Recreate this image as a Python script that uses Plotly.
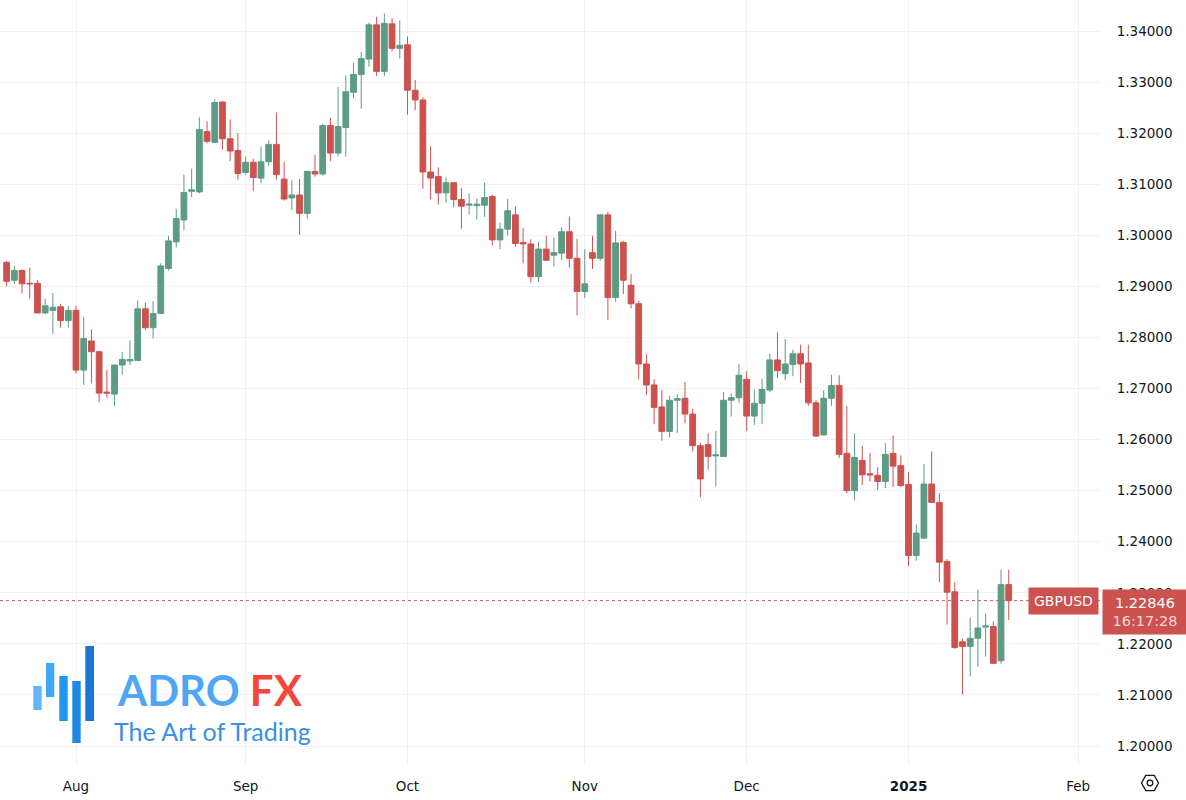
import plotly.graph_objects as go

# ---------------- data ----------------
dates = [
    "2024-07-19", "2024-07-22", "2024-07-23", "2024-07-24", "2024-07-25", "2024-07-26",
    "2024-07-29", "2024-07-30", "2024-07-31",
    "2024-08-01", "2024-08-02", "2024-08-05", "2024-08-06", "2024-08-07", "2024-08-08",
    "2024-08-09", "2024-08-12", "2024-08-13", "2024-08-14", "2024-08-15", "2024-08-16",
    "2024-08-19", "2024-08-20", "2024-08-21", "2024-08-22", "2024-08-23", "2024-08-26",
    "2024-08-27", "2024-08-28", "2024-08-29", "2024-08-30",
    "2024-09-02", "2024-09-03", "2024-09-04", "2024-09-05", "2024-09-06", "2024-09-09",
    "2024-09-10", "2024-09-11", "2024-09-12", "2024-09-13", "2024-09-16", "2024-09-17",
    "2024-09-18", "2024-09-19", "2024-09-20", "2024-09-23", "2024-09-24", "2024-09-25",
    "2024-09-26", "2024-09-27", "2024-09-30",
    "2024-10-01", "2024-10-02", "2024-10-03", "2024-10-04", "2024-10-07", "2024-10-08",
    "2024-10-09", "2024-10-10", "2024-10-11", "2024-10-14", "2024-10-15", "2024-10-16",
    "2024-10-17", "2024-10-18", "2024-10-21", "2024-10-22", "2024-10-23", "2024-10-24",
    "2024-10-25", "2024-10-28", "2024-10-29", "2024-10-30", "2024-10-31",
    "2024-11-01", "2024-11-04", "2024-11-05", "2024-11-06", "2024-11-07", "2024-11-08",
    "2024-11-11", "2024-11-12", "2024-11-13", "2024-11-14", "2024-11-15", "2024-11-18",
    "2024-11-19", "2024-11-20", "2024-11-21", "2024-11-22", "2024-11-25", "2024-11-26",
    "2024-11-27", "2024-11-28", "2024-11-29",
    "2024-12-02", "2024-12-03", "2024-12-04", "2024-12-05", "2024-12-06", "2024-12-09",
    "2024-12-10", "2024-12-11", "2024-12-12", "2024-12-13", "2024-12-16", "2024-12-17",
    "2024-12-18", "2024-12-19", "2024-12-20", "2024-12-23", "2024-12-24", "2024-12-26",
    "2024-12-27", "2024-12-30", "2024-12-31",
    "2025-01-02", "2025-01-03", "2025-01-06", "2025-01-07", "2025-01-08", "2025-01-09",
    "2025-01-10", "2025-01-13", "2025-01-14", "2025-01-15", "2025-01-16", "2025-01-17",
    "2025-01-20", "2025-01-21",
]

opens = [
    1.2947, 1.2912, 1.2931, 1.2906, 1.2906, 1.2848, 1.2853, 1.2860, 1.2833,
    1.2853, 1.2736, 1.2793, 1.2772, 1.2693, 1.2689, 1.2746, 1.2754, 1.2755, 1.2856, 1.2819, 1.2847,
    1.2935, 1.2987, 1.3030, 1.3086, 1.3085, 1.3203, 1.3182, 1.3261, 1.3189, 1.3166,
    1.3123, 1.3143, 1.3112, 1.3144, 1.3178, 1.3110, 1.3073, 1.3079, 1.3043, 1.3125, 1.3120, 1.3215,
    1.3161, 1.3211, 1.3280, 1.3315, 1.3345, 1.3412, 1.3321, 1.3414, 1.3366,
    1.3373, 1.3284, 1.3265, 1.3124, 1.3115, 1.3083, 1.3103, 1.3070, 1.3059, 1.3058, 1.3059, 1.3076,
    1.2991, 1.3012, 1.3040, 1.2986, 1.2983, 1.2919, 1.2973, 1.2961, 1.2965, 1.3007, 1.2955,
    1.2890, 1.2966, 1.2955, 1.3040, 1.2878, 1.2986, 1.2902, 1.2866, 1.2748, 1.2707, 1.2664, 1.2616,
    1.2677, 1.2681, 1.2650, 1.2588, 1.2590, 1.2568, 1.2567, 1.2677, 1.2682,
    1.2718, 1.2646, 1.2671, 1.2697, 1.2756, 1.2729, 1.2747, 1.2768, 1.2750, 1.2672, 1.2609, 1.2681,
    1.2706, 1.2573, 1.2500, 1.2559, 1.2533, 1.2530, 1.2518, 1.2573, 1.2549,
    1.2512, 1.2373, 1.2407, 1.2513, 1.2477, 1.2361, 1.2302, 1.2204, 1.2195, 1.2211, 1.2233, 1.2234,
    1.2167, 1.2316,
]

highs = [
    1.2950, 1.2941, 1.2933, 1.2937, 1.2912, 1.2876, 1.2887, 1.2866, 1.2862,
    1.2862, 1.2840, 1.2816, 1.2774, 1.2736, 1.2747, 1.2772, 1.2794, 1.2872, 1.2868, 1.2871, 1.2945,
    1.2999, 1.3052, 1.3119, 1.3130, 1.3231, 1.3223, 1.3266, 1.3262, 1.3227, 1.3200,
    1.3154, 1.3150, 1.3174, 1.3186, 1.3240, 1.3144, 1.3108, 1.3110, 1.3127, 1.3158, 1.3218, 1.3230,
    1.3290, 1.3313, 1.3338, 1.3359, 1.3416, 1.3428, 1.3434, 1.3425, 1.3421,
    1.3389, 1.3304, 1.3270, 1.3174, 1.3133, 1.3113, 1.3104, 1.3093, 1.3082, 1.3072, 1.3103, 1.3079,
    1.3025, 1.3071, 1.3057, 1.3014, 1.2992, 1.2987, 1.2999, 1.2996, 1.3016, 1.3037, 1.2993,
    1.2973, 1.2999, 1.3041, 1.3046, 1.3009, 1.2989, 1.2924, 1.2872, 1.2767, 1.2718, 1.2697, 1.2686,
    1.2689, 1.2713, 1.2660, 1.2594, 1.2612, 1.2617, 1.2693, 1.2690, 1.2748,
    1.2734, 1.2698, 1.2719, 1.2768, 1.2810, 1.2797, 1.2776, 1.2786, 1.2786, 1.2677, 1.2697, 1.2727,
    1.2726, 1.2666, 1.2612, 1.2588, 1.2574, 1.2546, 1.2593, 1.2608, 1.2569,
    1.2536, 1.2434, 1.2552, 1.2577, 1.2495, 1.2366, 1.2321, 1.2210, 1.2251, 1.2306, 1.2260, 1.2244,
    1.2345, 1.2345,
]

lows = [
    1.2900, 1.2905, 1.2886, 1.2876, 1.2847, 1.2846, 1.2807, 1.2819, 1.2819,
    1.2729, 1.2707, 1.2710, 1.2673, 1.2682, 1.2665, 1.2727, 1.2746, 1.2754, 1.2814, 1.2798, 1.2846,
    1.2931, 1.2976, 1.3010, 1.3075, 1.3082, 1.3180, 1.3180, 1.3168, 1.3145, 1.3109,
    1.3119, 1.3087, 1.3102, 1.3136, 1.3109, 1.3068, 1.3049, 1.3001, 1.3033, 1.3115, 1.3117, 1.3145,
    1.3154, 1.3154, 1.3268, 1.3248, 1.3330, 1.3312, 1.3312, 1.3360, 1.3346,
    1.3236, 1.3245, 1.3091, 1.3070, 1.3060, 1.3064, 1.3055, 1.3013, 1.3041, 1.3031, 1.3036, 1.2980,
    1.2973, 1.3000, 1.2977, 1.2945, 1.2908, 1.2909, 1.2951, 1.2939, 1.2952, 1.2937, 1.2843,
    1.2877, 1.2934, 1.2950, 1.2834, 1.2870, 1.2885, 1.2857, 1.2718, 1.2687, 1.2630, 1.2598, 1.2604,
    1.2613, 1.2632, 1.2577, 1.2487, 1.2541, 1.2508, 1.2566, 1.2645, 1.2672,
    1.2617, 1.2629, 1.2630, 1.2693, 1.2721, 1.2716, 1.2724, 1.2711, 1.2666, 1.2605, 1.2609, 1.2666,
    1.2564, 1.2495, 1.2481, 1.2511, 1.2518, 1.2501, 1.2505, 1.2507, 1.2507,
    1.2352, 1.2363, 1.2407, 1.2477, 1.2321, 1.2238, 1.2190, 1.2101, 1.2136, 1.2155, 1.2175, 1.2161,
    1.2161, 1.2247,
]

closes = [
    1.2910, 1.2931, 1.2905, 1.2905, 1.2848, 1.2862, 1.2859, 1.2833, 1.2853,
    1.2736, 1.2798, 1.2772, 1.2691, 1.2691, 1.2746, 1.2757, 1.2757, 1.2856, 1.2819, 1.2847, 1.2940,
    1.2989, 1.3033, 1.3084, 1.3089, 1.3207, 1.3184, 1.3260, 1.3189, 1.3165, 1.3121,
    1.3143, 1.3113, 1.3144, 1.3178, 1.3119, 1.3071, 1.3079, 1.3043, 1.3125, 1.3120, 1.3215, 1.3161,
    1.3213, 1.3281, 1.3315, 1.3346, 1.3412, 1.3321, 1.3415, 1.3366, 1.3372,
    1.3284, 1.3265, 1.3124, 1.3112, 1.3083, 1.3103, 1.3070, 1.3057, 1.3061, 1.3061, 1.3074, 1.2991,
    1.3012, 1.3048, 1.2984, 1.2983, 1.2919, 1.2973, 1.2951, 1.2966, 1.3007, 1.2955, 1.2890,
    1.2905, 1.2955, 1.3040, 1.2878, 1.2985, 1.2912, 1.2866, 1.2748, 1.2707, 1.2663, 1.2616, 1.2677,
    1.2680, 1.2650, 1.2588, 1.2523, 1.2567, 1.2570, 1.2677, 1.2682, 1.2726,
    1.2646, 1.2671, 1.2698, 1.2756, 1.2735, 1.2748, 1.2768, 1.2748, 1.2672, 1.2607, 1.2681, 1.2706,
    1.2571, 1.2500, 1.2565, 1.2531, 1.2531, 1.2518, 1.2571, 1.2548, 1.2510,
    1.2373, 1.2417, 1.2513, 1.2477, 1.2360, 1.2301, 1.2193, 1.2195, 1.2211, 1.2231, 1.2235, 1.2162,
    1.2316, 1.22846,
]

symbol = "GBPUSD"
countdown = "16:17:28"
price_ticks = [1.20, 1.21, 1.22, 1.23, 1.24, 1.25, 1.26, 1.27, 1.28, 1.29, 1.30, 1.31, 1.32, 1.33, 1.34]
month_ticks = ["2024-08-01", "2024-09-02", "2024-10-01", "2024-11-01", "2024-12-02", "2025-01-02", "2025-02-03"]
month_labels = ["Aug", "Sep", "Oct", "Nov", "Dec", "<b>2025</b>", "Feb"]
holidays = ["2024-12-25", "2025-01-01"]

# ---------------- styling ----------------
UP = "#5c9c84"
DOWN = "#cc524f"
GRID = "#eff1f4"
TXT = "#131722"
FONT = "DejaVu Sans"

W, H = 1186, 800
ML, MR, MT, MB = 0, 86, 0, 35
PW, PH = W - ML - MR, H - MT - MB


def px(x):
    return (x - ML) / PW


def py(y):
    return (H - MB - y) / PH


fig = go.Figure()
fig.add_trace(go.Candlestick(
    x=dates, open=opens, high=highs, low=lows, close=closes,
    increasing=dict(line=dict(color=UP, width=1), fillcolor=UP),
    decreasing=dict(line=dict(color=DOWN, width=1), fillcolor=DOWN),
    whiskerwidth=0, hoverinfo="skip", showlegend=False,
))

last = closes[-1]

shapes = [
    dict(type="line", xref="paper", yref="y", x0=0, x1=1, y0=last, y1=last,
         line=dict(color=DOWN, width=1, dash="dot"), layer="between"),
]

# logo bars (decoration)
logo_bars = [
    (33.3, 41.7, 686, 710, "#64b5f6"),
    (46.0, 54.3, 663, 697, "#42a5f5"),
    (59.3, 67.7, 676, 721, "#2196f3"),
    (72.3, 80.7, 681, 743, "#1e88e5"),
    (85.3, 94.0, 646, 721, "#1976d2"),
]
for x0, x1, y0, y1, c in logo_bars:
    shapes.append(dict(type="rect", xref="paper", yref="paper",
                       x0=px(x0), x1=px(x1), y0=py(y1), y1=py(y0),
                       fillcolor=c, line=dict(width=0), layer="above"))

# settings icon (hexagon + circle) bottom-right
cx, cy, r = 1150, 783, 8.5
pts = [(cx - r, cy), (cx - r / 2, cy - r * 0.9), (cx + r / 2, cy - r * 0.9),
       (cx + r, cy), (cx + r / 2, cy + r * 0.9), (cx - r / 2, cy + r * 0.9)]
path = "M " + " L ".join(f"{px(a):.5f},{py(b):.5f}" for a, b in pts) + " Z"
shapes.append(dict(type="path", xref="paper", yref="paper", path=path,
                   line=dict(color=TXT, width=1.3), layer="above"))
shapes.append(dict(type="circle", xref="paper", yref="paper",
                   x0=px(cx - 2.8), x1=px(cx + 2.8), y0=py(cy + 2.8), y1=py(cy - 2.8),
                   line=dict(color=TXT, width=1.3), layer="above"))

annotations = [
    dict(xref="paper", yref="y", x=1, y=last, xanchor="right", yanchor="middle", xshift=-1,
         text=symbol, showarrow=False, bgcolor=DOWN, borderpad=5,
         font=dict(family=FONT, size=14, color="white")),
    dict(xref="paper", yref="y", x=1, y=last, xanchor="left", yanchor="top", xshift=2, yshift=12,
         text=f"{last:.5f}<br><span style='color:rgba(255,255,255,0.78)'>{countdown}</span>",
         showarrow=False, bgcolor=DOWN, borderpad=4, width=76, height=36, align="center",
         font=dict(family=FONT, size=14.5, color="white")),
    dict(xref="paper", yref="paper", x=px(115), y=py(690), xanchor="left", yanchor="middle",
         text="<span style='color:#4fa6f5'>ADRO</span> <span style='color:#f4473c'>FX</span>",
         showarrow=False, font=dict(family="Lato", size=42, weight="bold")),
    dict(xref="paper", yref="paper", x=px(112), y=py(731), xanchor="left", yanchor="middle",
         text="The Art of Trading", showarrow=False,
         font=dict(family="Lato", size=25, color="#3a8fe3")),
]

fig.update_layout(
    width=W, height=H,
    margin=dict(l=ML, r=MR, t=MT, b=MB),
    paper_bgcolor="white", plot_bgcolor="white",
    boxgap=0.25, boxgroupgap=0,
    shapes=shapes, annotations=annotations,
    showlegend=False,
    font=dict(family=FONT, size=13.5, color=TXT),
    xaxis=dict(
        type="date",
        range=["2024-07-18 03:20", "2025-02-05 20:10"],
        rangebreaks=[dict(bounds=["sat", "mon"]), dict(values=holidays)],
        rangeslider=dict(visible=False),
        tickmode="array", tickvals=month_ticks, ticktext=month_labels,
        showgrid=True, gridcolor=GRID, gridwidth=1, zeroline=False, showline=False,
        ticks="outside", ticklen=9, tickcolor="rgba(0,0,0,0)",
        tickfont=dict(family=FONT, size=13.5, color=TXT),
        fixedrange=True,
    ),
    yaxis=dict(
        side="right",
        range=[1.196282, 1.346070],
        tickmode="array", tickvals=price_ticks, tickformat=".5f",
        showgrid=True, gridcolor=GRID, gridwidth=1, zeroline=False, showline=False,
        ticks="outside", ticklen=13, tickcolor="rgba(0,0,0,0)",
        tickfont=dict(family=FONT, size=13.5, color=TXT),
        fixedrange=True,
    ),
)

fig.write_html("out.html", post_script="document.body.style.margin='0';",
               config={"displayModeBar": False})
